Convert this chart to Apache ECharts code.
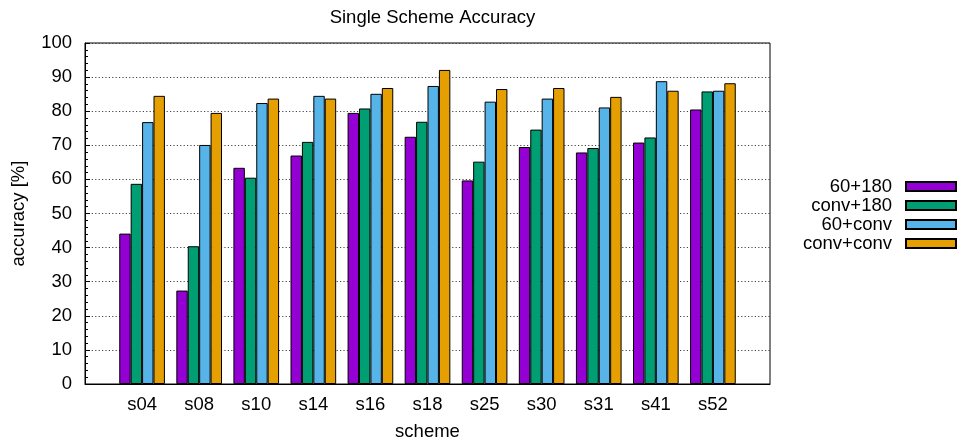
<!DOCTYPE html>
<html>
<head>
<meta charset="utf-8">
<title>Single Scheme Accuracy</title>
<script src="https://cdn.jsdelivr.net/npm/echarts@6/dist/echarts.min.js"></script>
<style>
  html, body { margin: 0; padding: 0; background: #fff; }
  #chart { width: 960px; height: 446px; }
</style>
</head>
<body>
<div id="chart"></div>
<script>
// Schemes along the x axis
const categories = ['s04', 's08', 's10', 's14', 's16', 's18', 's25', 's30', 's31', 's41', 's52'];

// Accuracy per scheme (%), one array per configuration
const acc60_180   = [44.1, 27.4, 63.4, 67.0, 79.5, 72.5, 59.7, 69.5, 67.9, 70.8, 80.5];
const accConv_180 = [58.7, 40.4, 60.5, 71.0, 80.8, 76.9, 65.2, 74.6, 69.2, 72.3, 85.8];
const acc60_conv  = [76.8, 70.1, 82.4, 84.5, 85.1, 87.4, 82.8, 83.7, 81.1, 88.8, 86.0];
const accConvConv = [84.5, 79.5, 83.7, 83.7, 86.8, 92.1, 86.5, 86.8, 84.2, 86.0, 88.2];

const seriesNames = ['60+180', 'conv+180', '60+conv', 'conv+conv'];
const seriesValues = [acc60_180, accConv_180, acc60_conv, accConvConv];
const seriesColors = ['#9400d3', '#009e73', '#56b4e9', '#e69f00'];

const FONT = 'Liberation Sans, Arial, Helvetica, sans-serif';
const FS = 18.5;

const chart = echarts.init(document.getElementById('chart'), null, { renderer: 'canvas' });

const series = seriesNames.map((name, s) => ({
  name: name,
  type: 'bar',
  data: seriesValues[s].map((v, i) => [i, v]),
  barGap: '0%',
  barCategoryGap: '20%',
  itemStyle: { color: seriesColors[s], borderColor: '#000', borderWidth: 1 },
  emphasis: { disabled: true },
  animation: false
}));

chart.setOption({
  animation: false,
  backgroundColor: '#fff',
  textStyle: { fontFamily: FONT },
  title: {
    text: 'Single Scheme Accuracy',
    left: 427.5,
    textAlign: 'center',
    top: 3,
    textStyle: { fontFamily: FONT, fontSize: FS, fontWeight: 'normal', color: '#000' }
  },
  legend: {
    orient: 'vertical',
    right: 3,
    top: 177,
    padding: 0,
    align: 'right',
    itemWidth: 50,
    itemHeight: 9,
    itemGap: 0,
    icon: 'rect',
    selectedMode: false,
    textStyle: { fontFamily: FONT, fontSize: FS, color: '#000', lineHeight: 19, padding: [0, 9, 0, 0] },
    data: seriesNames
  },
  grid: {
    left: 85, right: 190, top: 43, bottom: 61,
    show: true, borderColor: '#000', borderWidth: 1, backgroundColor: 'transparent'
  },
  xAxis: {
    type: 'value',
    min: -1, max: 11, interval: 1,
    name: 'scheme',
    nameLocation: 'middle',
    nameGap: 38,
    nameTextStyle: { fontFamily: FONT, fontSize: FS, color: '#000' },
    axisLine: { show: true, onZero: false, lineStyle: { color: '#000', width: 1 } },
    axisTick: { show: false },
    splitLine: { show: false },
    axisLabel: {
      fontFamily: FONT, fontSize: FS, color: '#000', margin: 11,
      formatter: v => (categories[v] !== undefined ? categories[v] : '')
    }
  },
  yAxis: {
    type: 'value',
    min: 0, max: 100, interval: 10,
    name: 'accuracy [%]',
    nameLocation: 'middle',
    nameGap: 57,
    nameTextStyle: { fontFamily: FONT, fontSize: FS, color: '#000' },
    axisLine: { show: true, onZero: false, lineStyle: { color: '#000', width: 1 } },
    axisTick: { show: true, inside: true, length: 5, lineStyle: { color: '#000', width: 1 } },
    minorTick: { show: true, splitNumber: 5, length: 3, lineStyle: { color: '#000', width: 1 } },
    axisLabel: { fontFamily: FONT, fontSize: FS, color: '#000', margin: 13 },
    splitLine: { show: true, lineStyle: { color: '#444', width: 1, type: [1.2, 2.2] } }
  },
  series: series
});
</script>
</body>
</html>
